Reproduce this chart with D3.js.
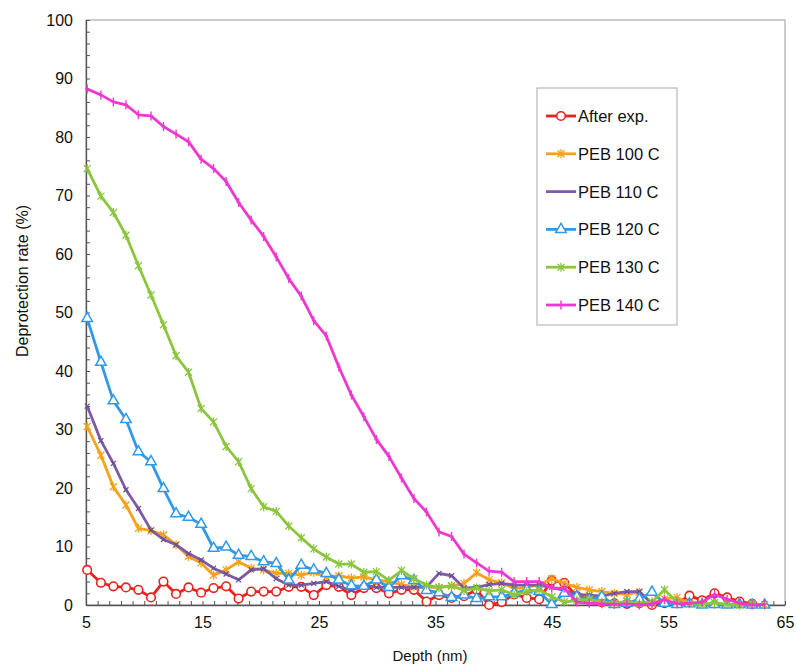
<!DOCTYPE html>
<html>
<head>
<meta charset="utf-8">
<script src="https://cdn.jsdelivr.net/npm/d3@7/dist/d3.min.js"></script>
<style>
  html, body { margin: 0; padding: 0; background: #fff; }
  svg { display: block; font-family: "Liberation Sans", Arial, sans-serif; }
</style>
</head>
<body>
<svg id="chart" width="796" height="665"></svg>
<script>
// Depth of each measurement (nm)
const depth = [5.1, 6.28, 7.35, 8.43, 9.5, 10.58, 11.65, 12.73, 13.8, 14.88, 15.95, 17.03, 18.1, 19.18,
  20.25, 21.33, 22.4, 23.48, 24.55, 25.63, 26.7, 27.78, 28.85, 29.93, 31.0, 32.08, 33.15, 34.23, 35.3,
  36.38, 37.45, 38.53, 39.6, 40.68, 41.75, 42.83, 43.9, 44.98, 46.05, 47.13, 48.2, 49.28, 50.35, 51.43,
  52.5, 53.58, 54.65, 55.73, 56.8, 57.88, 58.95, 60.03, 61.1, 62.18, 63.25];

// Deprotection rate (%) per condition
const afterExp = [6.0, 3.8, 3.2, 3.0, 2.6, 1.3, 4.0, 1.9, 3.0, 2.1, 2.9, 3.2, 1.1, 2.3, 2.3, 2.3, 3.1, 3.1,
  1.7, 3.4, 3.1, 1.7, 2.9, 2.9, 2.0, 2.6, 2.6, 0.6, 1.7, 1.2, 1.5, 2.6, 0.0, 0.5, 1.8, 1.2, 1.0, 4.2, 3.8,
  1.5, 1.0, 0.5, 0.3, 0.2, 0.3, 0.0, 0.3, 0.3, 1.6, 0.8, 2.0, 1.3, 0.6, 0.2];
const peb100 = [30.5, 25.6, 20.2, 17.1, 13.1, 12.7, 12.0, 10.3, 8.3, 7.2, 5.1, 6.0, 7.4, 6.3, 6.0, 5.4, 5.4,
  5.1, 5.6, 4.8, 5.0, 4.6, 4.8, 4.3, 4.0, 3.5, 3.1, 3.0, 3.0, 3.2, 3.7, 5.5, 4.3, 3.8, 2.8, 3.0, 3.5, 4.5,
  3.7, 3.0, 2.6, 2.3, 2.0, 1.8, 2.2, 0.3, 1.0, 1.3, 0.3, 0.2, 0.1, 0.1, 0.0, 0.1, 0.0];
const peb110 = [34.0, 28.1, 24.2, 19.7, 16.5, 12.8, 11.2, 10.3, 8.8, 7.7, 6.3, 5.3, 4.3, 6.0, 6.2, 4.5, 3.4,
  3.4, 3.7, 4.0, 3.2, 2.5, 3.4, 3.0, 3.0, 3.0, 3.0, 3.1, 5.4, 5.0, 2.9, 3.0, 3.5, 3.7, 3.4, 3.4, 3.4, 3.0,
  2.5, 1.8, 1.7, 1.5, 2.0, 2.3, 2.3, 0.2, 0.3, 0.2, 0.1, 0.1, 0.0, 0.1, 0.0, 0.0, 0.0];
const peb120 = [49.0, 41.5, 34.9, 31.7, 26.2, 24.5, 19.9, 15.6, 15.0, 13.8, 9.7, 9.9, 8.5, 8.3, 7.4, 7.1, 4.3,
  6.8, 6.0, 5.4, 4.3, 3.3, 3.2, 4.3, 3.0, 5.0, 4.2, 2.5, 2.1, 1.3, 1.7, 1.1, 1.4, 1.4, 2.0, 2.6, 2.3, 0.1,
  2.0, 1.4, 0.9, 1.4, 0.1, 0.3, 1.0, 2.2, 0.3, 0.1, 0.2, 0.0, 0.1, 0.0, 0.1, 0.0, 0.0];
const peb130 = [74.6, 69.9, 67.1, 63.2, 58.0, 53.0, 47.9, 42.6, 39.8, 33.6, 31.3, 27.1, 24.5, 19.9, 16.8,
  16.0, 13.5, 11.5, 9.6, 8.2, 7.0, 7.0, 5.6, 5.7, 4.2, 5.9, 4.5, 3.4, 3.0, 3.3, 2.5, 2.9, 2.4, 2.6, 1.7,
  2.3, 2.6, 1.4, 0.5, 0.8, 1.0, 0.5, 0.3, 0.6, 0.2, 0.5, 2.6, 0.5, 0.2, 0.1, 0.4, 0.1, 0.0, 0.2, 0.0];
const peb140 = [88.2, 87.2, 86.0, 85.5, 83.8, 83.6, 81.8, 80.5, 79.2, 76.2, 74.6, 72.4, 68.8, 65.8, 63.0,
  59.5, 55.8, 52.8, 48.6, 46.0, 40.7, 35.9, 32.2, 28.3, 25.4, 21.7, 18.2, 15.9, 12.5, 11.7, 8.7, 7.2, 5.8,
  5.6, 4.0, 4.0, 4.0, 2.9, 2.9, 0.5, 0.3, 0.2, 0.1, 0.2, 0.0, 0.2, 0.9, 0.2, 0.3, 0.5, 1.8, 1.0, 0.3, 0.0, 0.1];

const seriesNames = ["After exp.", "PEB 100 C", "PEB 110 C", "PEB 120 C", "PEB 130 C", "PEB 140 C"];
const seriesValues = [afterExp, peb100, peb110, peb120, peb130, peb140];
const seriesColors = ["#e8231e", "#f5a21c", "#7d5ba6", "#3399e6", "#8cc63f", "#ee38cf"];
const seriesMarkers = ["circle", "star", "tick", "triangle", "star", "plus"];

const xTicks = [5, 15, 25, 35, 45, 55, 65];
const yTicks = [0, 10, 20, 30, 40, 50, 60, 70, 80, 90, 100];

const plot = { left: 86, right: 785, top: 20, bottom: 605 };
const svg = d3.select("#chart");

const x = d3.scaleLinear().domain([5, 65]).range([plot.left, plot.right]);
const y = d3.scaleLinear().domain([0, 100]).range([plot.bottom, plot.top]);

// plot frame
svg.append("rect")
  .attr("x", plot.left).attr("y", plot.top)
  .attr("width", plot.right - plot.left).attr("height", plot.bottom - plot.top)
  .attr("fill", "none").attr("stroke", "#9a9a9a").attr("stroke-width", 1);

// axes with inward ticks
const yMinor = d3.range(0, 101, 2);
svg.append("g").attr("transform", `translate(${plot.left},0)`)
  .call(d3.axisRight(y).tickValues(yMinor).tickSize(4).tickFormat(""))
  .call(g => g.selectAll("line").attr("stroke", "#555"))
  .call(g => g.select(".domain").remove());
svg.append("g").attr("transform", `translate(${plot.left},0)`)
  .call(d3.axisLeft(y).tickValues(yTicks).tickSize(0).tickPadding(13))
  .call(g => g.select(".domain").attr("stroke", "#555").attr("stroke-width", 1.3))
  .call(g => g.selectAll("text").attr("font-size", 16).attr("fill", "#111"));

const xMinor = d3.range(5, 66, 1);
svg.append("g").attr("transform", `translate(0,${plot.bottom})`)
  .call(d3.axisTop(x).tickValues(xMinor).tickSize(4).tickFormat(""))
  .call(g => g.selectAll("line").attr("stroke", "#555"))
  .call(g => g.select(".domain").remove());
svg.append("g").attr("transform", `translate(0,${plot.bottom})`)
  .call(d3.axisBottom(x).tickValues(xTicks).tickSize(0).tickPadding(12))
  .call(g => g.select(".domain").attr("stroke", "#555").attr("stroke-width", 1.3))
  .call(g => g.selectAll("text").attr("font-size", 16).attr("fill", "#111"));

// axis titles
svg.append("text")
  .attr("transform", `translate(28,281) rotate(-90)`)
  .attr("text-anchor", "middle").attr("font-size", 16).attr("fill", "#111")
  .text("Deprotection rate (%)");
svg.append("text")
  .attr("x", 430).attr("y", 661)
  .attr("text-anchor", "middle").attr("font-size", 15).attr("fill", "#111")
  .text("Depth (nm)");

// marker drawing
function drawMarker(g, type, color) {
  if (type === "circle") {
    g.append("circle").attr("r", 4.3).attr("fill", "#fff").attr("stroke", color).attr("stroke-width", 1.6);
  } else if (type === "triangle") {
    g.append("path").attr("d", d3.symbol(d3.symbolTriangle, 48)())
      .attr("fill", "#fff").attr("stroke", color).attr("stroke-width", 1.5);
  } else if (type === "star") {
    g.append("path").attr("d", "M-3.5,-3.5L3.5,3.5M-3.5,3.5L3.5,-3.5M0,-4.5L0,4.5")
      .attr("stroke", color).attr("stroke-width", 1.3).attr("fill", "none");
  } else if (type === "plus") {
    g.append("path").attr("d", "M0,-4.5L0,4.5M-2,0L2,0")
      .attr("stroke", color).attr("stroke-width", 1.4).attr("fill", "none");
  } else if (type === "tick") {
    g.append("path").attr("d", "M-2.5,-2.5L2.5,2.5M-2.5,2.5L2.5,-2.5")
      .attr("stroke", d3.color(color).darker(0.4)).attr("stroke-width", 1.2).attr("fill", "none");
  }
}

const line = d3.line().x(d => x(d[0])).y(d => y(d[1]));

seriesValues.forEach((vals, i) => {
  const pts = vals.map((v, k) => [depth[k], v]);
  const g = svg.append("g");
  g.append("path").datum(pts).attr("d", line)
    .attr("fill", "none").attr("stroke", seriesColors[i]).attr("stroke-width", 2.8)
    .attr("stroke-linejoin", "round");
  g.selectAll("g.m").data(pts).join("g").attr("class", "m")
    .attr("transform", d => `translate(${x(d[0])},${y(d[1])})`)
    .each(function () { drawMarker(d3.select(this), seriesMarkers[i], seriesColors[i]); });
});

// legend
const legend = svg.append("g");
legend.append("rect").attr("x", 537).attr("y", 88).attr("width", 140).attr("height", 237)
  .attr("fill", "#fff").attr("stroke", "#aaa").attr("stroke-width", 1);
seriesNames.forEach((name, i) => {
  const cy = 116 + i * 37.8;
  const row = legend.append("g");
  row.append("line").attr("x1", 546).attr("x2", 576).attr("y1", cy).attr("y2", cy)
    .attr("stroke", seriesColors[i]).attr("stroke-width", 2.8);
  if (seriesMarkers[i] !== "tick") {
    const m = row.append("g").attr("transform", `translate(561,${cy})`);
    drawMarker(m, seriesMarkers[i], seriesColors[i]);
  }
  row.append("text").attr("x", 578).attr("y", cy + 6)
    .attr("font-size", 16.5).attr("fill", "#111").text(name);
});
</script>
</body>
</html>
